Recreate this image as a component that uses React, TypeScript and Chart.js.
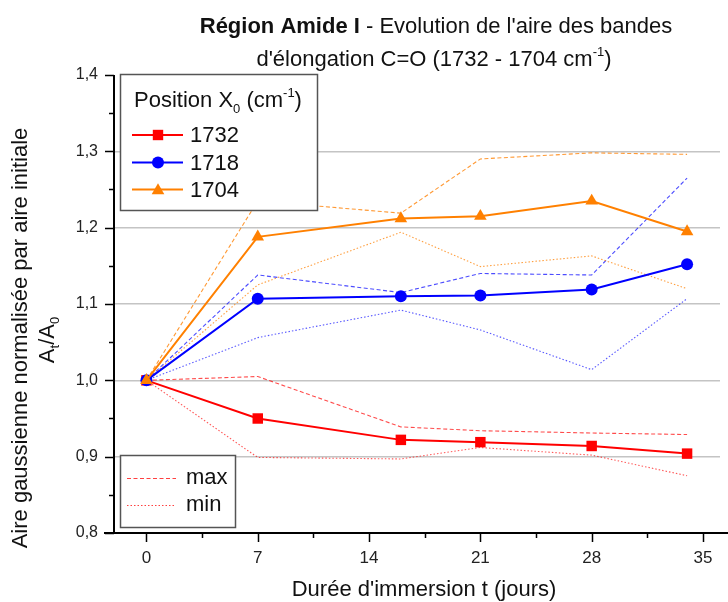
import React, { useEffect, useRef } from "react";
import { Chart, registerables } from "chart.js";

Chart.register(...registerables);

const days = [0, 7, 16, 21, 28, 34];
const s1732 = [1.0, 0.95, 0.922, 0.919, 0.914, 0.904];
const s1732Max = [1.0, 1.005, 0.939, 0.934, 0.931, 0.929];
const s1732Min = [1.0, 0.899, 0.897, 0.912, 0.902, 0.875];
const s1718 = [1.0, 1.107, 1.11, 1.111, 1.119, 1.152];
const s1718Max = [1.0, 1.138, 1.115, 1.14, 1.138, 1.265];
const s1718Min = [1.0, 1.056, 1.092, 1.066, 1.014, 1.107];
const s1704 = [1.0, 1.188, 1.212, 1.215, 1.235, 1.195];
const s1704Max = [1.0, 1.235, 1.219, 1.29, 1.298, 1.296];
const s1704Min = [1.0, 1.125, 1.194, 1.149, 1.163, 1.12];
const xTicks = [0, 7, 14, 21, 28, 35];
const yTicks = [0.8, 0.9, 1.0, 1.1, 1.2, 1.3, 1.4];
const seriesNames = ["1732", "1718", "1704"];

const RED = "#ff0000";
const BLUE = "#0000ff";
const ORANGE = "#ff8000";
const FONT = "'Liberation Sans', Arial, sans-serif";

const pts = (arr: number[]) => days.map((d, i) => ({ x: d, y: arr[i] }));

function drawMarker(ctx: CanvasRenderingContext2D, shape: string, x: number, y: number, color: string) {
  ctx.save();
  ctx.fillStyle = color;
  ctx.beginPath();
  if (shape === "rect") {
    ctx.rect(x - 5.2, y - 5.2, 10.4, 10.4);
  } else if (shape === "circle") {
    ctx.arc(x, y, 6, 0, Math.PI * 2);
  } else {
    const r = 7.3;
    ctx.moveTo(x, y - r);
    ctx.lineTo(x + r * 0.866, y + r * 0.5);
    ctx.lineTo(x - r * 0.866, y + r * 0.5);
    ctx.closePath();
  }
  ctx.fill();
  ctx.restore();
}

type Run = { t: string; size: number; bold?: boolean; dy?: number };
function drawRuns(ctx: CanvasRenderingContext2D, runs: Run[], x: number, y: number, align: "center" | "left") {
  ctx.save();
  ctx.textBaseline = "middle";
  ctx.textAlign = "left";
  let total = 0;
  const widths = runs.map((r) => {
    ctx.font = `${r.bold ? "bold " : ""}${r.size}px ${FONT}`;
    const w = ctx.measureText(r.t).width;
    total += w;
    return w;
  });
  let cx = align === "center" ? x - total / 2 : x;
  runs.forEach((r, i) => {
    ctx.font = `${r.bold ? "bold " : ""}${r.size}px ${FONT}`;
    ctx.fillText(r.t, cx, y + (r.dy || 0));
    cx += widths[i];
  });
  ctx.restore();
}

const decor = {
  id: "decor",
  afterDraw(chart: any) {
    const ctx: CanvasRenderingContext2D = chart.ctx;
    const xs = chart.scales.x;
    const ys = chart.scales.y;
    const area = chart.chartArea;
    ctx.save();
    // axes
    ctx.strokeStyle = "#000";
    ctx.lineWidth = 2;
    ctx.beginPath();
    ctx.moveTo(104, area.bottom);
    ctx.lineTo(728, area.bottom);
    ctx.moveTo(area.left, area.top);
    ctx.lineTo(area.left, area.bottom);
    ctx.stroke();
    ctx.lineWidth = 1.5;
    ctx.beginPath();
    for (let v = 0; v <= 35.01; v += 3.5) {
      const px = Math.round(xs.getPixelForValue(v)) + 0.5;
      const major = Math.abs(v / 7 - Math.round(v / 7)) < 1e-6;
      ctx.moveTo(px, area.bottom);
      ctx.lineTo(px, area.bottom + (major ? 9 : 5));
    }
    for (let v = 0.8; v <= 1.4001; v += 0.05) {
      const py = Math.round(ys.getPixelForValue(v)) + 0.5;
      const k = Math.round(v * 100);
      const major = k % 10 === 0;
      ctx.moveTo(area.left, py);
      ctx.lineTo(area.left - (major ? 9 : 5), py);
    }
    ctx.stroke();

    ctx.fillStyle = "#111";
    // title
    drawRuns(ctx, [
      { t: "Région Amide I", size: 22, bold: true },
      { t: " - Evolution de l'aire des bandes", size: 22 },
    ], 436, 27, "center");
    drawRuns(ctx, [
      { t: "d'élongation C=O (1732 - 1704 cm", size: 22 },
      { t: "-1", size: 13, dy: -8 },
      { t: ")", size: 22 },
    ], 434, 60, "center");

    // x axis title
    drawRuns(ctx, [{ t: "Durée d'immersion t (jours)", size: 22 }], 424, 590, "center");

    // y axis title
    ctx.save();
    ctx.translate(21, 338);
    ctx.rotate(-Math.PI / 2);
    drawRuns(ctx, [{ t: "Aire gaussienne normalisée par aire initiale", size: 22 }], 0, 0, "center");
    ctx.restore();
    ctx.save();
    ctx.translate(48, 340);
    ctx.rotate(-Math.PI / 2);
    drawRuns(ctx, [
      { t: "A", size: 22 },
      { t: "t", size: 13, dy: 7 },
      { t: "/A", size: 22 },
      { t: "0", size: 13, dy: 7 },
    ], 0, 0, "center");
    ctx.restore();

    // main legend
    ctx.fillStyle = "#fff";
    ctx.fillRect(120, 74, 198, 137);
    ctx.strokeStyle = "#555";
    ctx.lineWidth = 1.5;
    ctx.strokeRect(120.5, 74.5, 197, 136);
    ctx.fillStyle = "#111";
    drawRuns(ctx, [
      { t: "Position X", size: 22 },
      { t: "0", size: 13, dy: 8 },
      { t: " (cm", size: 22 },
      { t: "-1", size: 13, dy: -8 },
      { t: ")", size: 22 },
    ], 134, 101, "left");
    const items = [
      { c: RED, s: "rect", y: 135 },
      { c: BLUE, s: "circle", y: 162.5 },
      { c: ORANGE, s: "triangle", y: 189.5 },
    ];
    items.forEach((it, i) => {
      ctx.strokeStyle = it.c;
      ctx.lineWidth = 1.8;
      ctx.beginPath();
      ctx.moveTo(132, it.y);
      ctx.lineTo(183, it.y);
      ctx.stroke();
      drawMarker(ctx, it.s, 158, it.s === "triangle" ? it.y + 1 : it.y, it.c);
      ctx.fillStyle = "#111";
      drawRuns(ctx, [{ t: seriesNames[i], size: 22 }], 190, it.y + 1, "left");
    });

    // min/max legend
    ctx.fillStyle = "#fff";
    ctx.fillRect(120, 455, 115, 73);
    ctx.strokeStyle = "#555";
    ctx.lineWidth = 1.5;
    ctx.strokeRect(120.5, 455.5, 115, 72);
    ctx.strokeStyle = "rgba(255,0,0,0.75)";
    ctx.lineWidth = 1;
    ctx.setLineDash([4, 2.5]);
    ctx.beginPath();
    ctx.moveTo(127, 478.5);
    ctx.lineTo(176, 478.5);
    ctx.stroke();
    ctx.setLineDash([1.5, 2]);
    ctx.beginPath();
    ctx.moveTo(127, 505.5);
    ctx.lineTo(176, 505.5);
    ctx.stroke();
    ctx.setLineDash([]);
    ctx.fillStyle = "#111";
    drawRuns(ctx, [{ t: "max", size: 22 }], 186, 478, "left");
    drawRuns(ctx, [{ t: "min", size: 22 }], 186, 505, "left");
    ctx.restore();
  },
};

export default function App() {
  const ref = useRef<HTMLCanvasElement | null>(null);
  useEffect(() => {
    if (!ref.current) return;
    const mainDs = (label: string, data: number[], color: string, shape: string, r: number) => ({
      label,
      data: pts(data),
      borderColor: color,
      backgroundColor: color,
      borderWidth: 2,
      pointStyle: shape,
      pointRadius: r,
      pointBorderWidth: 0,
      pointBackgroundColor: color,
      tension: 0,
    });
    const dash = (label: string, data: number[], color: string) => ({
      label,
      data: pts(data),
      borderColor: color,
      borderWidth: 1.1,
      borderDash: [4, 2.5],
      pointRadius: 0,
      tension: 0,
    });
    const dot = (label: string, data: number[], color: string) => ({
      label,
      data: pts(data),
      borderColor: color,
      borderWidth: 1.1,
      borderDash: [1.5, 2],
      pointRadius: 0,
      tension: 0,
    });
    const chart = new Chart(ref.current, {
      type: "line",
      data: {
        datasets: [
          mainDs("1704", s1704, ORANGE, "triangle", 7.3),
          mainDs("1718", s1718, BLUE, "circle", 6),
          mainDs("1732", s1732, RED, "rect", 7.4),
          dash("1704 max", s1704Max, "rgba(255,128,0,0.8)"),
          dot("1704 min", s1704Min, "rgba(255,128,0,0.75)"),
          dash("1718 max", s1718Max, "rgba(0,0,255,0.7)"),
          dot("1718 min", s1718Min, "rgba(0,0,255,0.65)"),
          dash("1732 max", s1732Max, "rgba(255,0,0,0.7)"),
          dot("1732 min", s1732Min, "rgba(255,0,0,0.65)"),
        ] as any,
      },
      options: {
        animation: false,
        responsive: false,
        maintainAspectRatio: false,
        layout: { padding: { top: 75, right: 8, left: 0, bottom: 0 } },
        plugins: { legend: { display: false }, tooltip: { enabled: false }, title: { display: false } },
        scales: {
          x: {
            type: "linear",
            min: -2.04,
            max: 36.07,
            afterBuildTicks: (s: any) => {
              s.ticks = xTicks.map((v) => ({ value: v }));
            },
            afterFit: (s: any) => {
              s.height = 69;
              s.paddingLeft = 0;
              s.paddingRight = 0;
            },
            ticks: {
              callback: (v: any) => String(v),
              font: { family: FONT, size: 17 },
              color: "#222",
              padding: 15,
              maxRotation: 0,
            },
            grid: { display: false, drawTicks: false },
            border: { display: false },
          },
          y: {
            type: "linear",
            min: 0.8,
            max: 1.4,
            afterBuildTicks: (s: any) => {
              s.ticks = yTicks.map((v) => ({ value: v }));
            },
            afterFit: (s: any) => {
              s.width = 114;
              s.paddingTop = 0;
              s.paddingBottom = 0;
            },
            ticks: {
              callback: (v: any) => Number(v).toFixed(1).replace(".", ","),
              font: { family: FONT, size: 16 },
              color: "#222",
              padding: 16,
            },
            grid: {
              drawTicks: false,
              lineWidth: 1.5,
              color: (c: any) => {
                const v = c.tick ? c.tick.value : 0;
                return Math.abs(v - 0.8) < 1e-6 || Math.abs(v - 1.4) < 1e-6 ? "rgba(0,0,0,0)" : "#c4c4c4";
              },
            },
            border: { display: false },
          },
        },
      } as any,
      plugins: [decor],
    });
    return () => chart.destroy();
  }, []);
  return (
    <div style={{ position: "absolute", left: 0, top: 0, width: 728, height: 602, background: "#fff" }}>
      <canvas ref={ref} width={728} height={602} style={{ display: "block" }} />
    </div>
  );
}
